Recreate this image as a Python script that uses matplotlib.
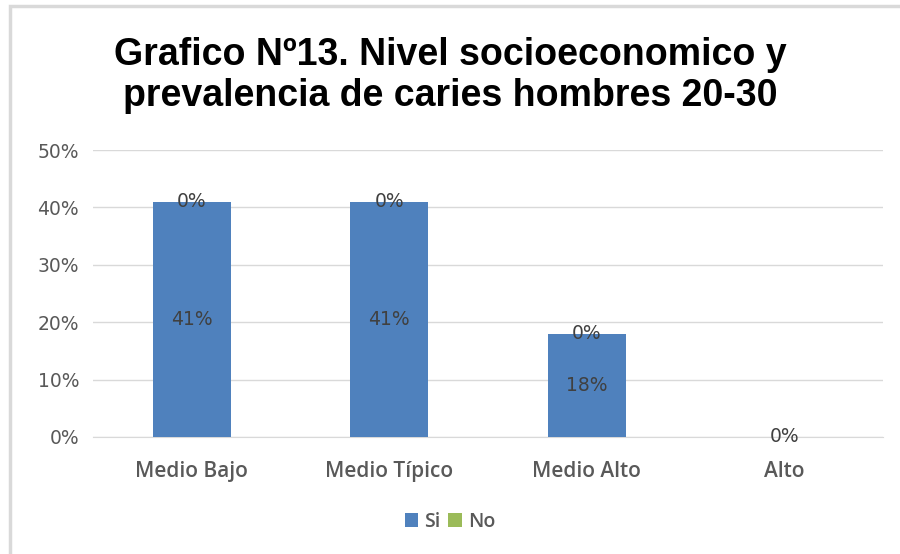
import matplotlib.pyplot as plt
from matplotlib.patches import Rectangle
import numpy as np

categories = ["Medio Bajo", "Medio Típico", "Medio Alto", "Alto"]
si_values = [41, 41, 18, 0]
no_values = [0, 0, 0, 0]

title = "Grafico Nº13. Nivel socioeconomico y\nprevalencia de caries hombres 20-30"

blue = "#4F81BD"
green = "#9BBB59"
gray_text = "#595959"
label_text = "#404040"

fig = plt.figure(figsize=(9, 5.54), dpi=100)
ax = fig.add_axes([0.1033, 0.2112, 0.8778, 0.518])

x = np.arange(len(categories))
width = 0.395

ax.bar(x, si_values, width, color=blue, label="Si", zorder=3)
ax.bar(x, no_values, width, bottom=si_values, color=green, label="No", zorder=3)

# data labels: Si in the middle of its bar, No at the top (zero height)
for xi, v in zip(x, si_values):
    if v > 0:
        ax.text(xi, v / 2, f"{v}%", ha="center", va="center", fontsize=13.5,
                color=label_text, family="DejaVu Sans", zorder=4)
for xi, s, v in zip(x, si_values, no_values):
    ax.text(xi, s + v / 2, f"{v}%", ha="center", va="center", fontsize=13.5,
            color=label_text, family="DejaVu Sans", zorder=4)

ax.set_xlim(-0.5, 3.5)
ax.set_ylim(0, 50)
ax.set_yticks(range(0, 51, 10))
ax.set_yticklabels([f"{t}%" for t in range(0, 51, 10)])
ax.set_xticks(x)
ax.set_xticklabels(categories)

ax.grid(axis="y", color="#d9d9d9", linewidth=1, zorder=0)
for side in ["top", "right", "left"]:
    ax.spines[side].set_visible(False)
ax.spines["bottom"].set_color("#d9d9d9")
ax.tick_params(axis="both", length=0, colors=gray_text)
ax.tick_params(axis="y", labelsize=13.5, pad=10)
ax.tick_params(axis="x", labelsize=15, pad=17)
for lbl in ax.get_yticklabels():
    lbl.set_family("DejaVu Sans")
for lbl in ax.get_xticklabels():
    lbl.set_family("Open Sans")
    lbl.set_fontweight("semibold")

fig.text(0.5, 0.864, title, ha="center", va="center", fontsize=27,
         fontweight="bold", family="Liberation Sans", linespacing=1.2)

leg = fig.legend(loc="center", bbox_to_anchor=(0.5, 0.058), ncol=2, frameon=False,
                 handlelength=0.7, handleheight=0.7, handletextpad=0.3, columnspacing=0.4,
                 prop={"family": "Open Sans", "weight": "semibold", "size": 14})
for t in leg.get_texts():
    t.set_color(gray_text)

# light chart border (left and top edges visible)
fig.patches.append(Rectangle((10 / 900, -0.1), 1.2, 1 - 6 / 554 + 0.1,
                             transform=fig.transFigure, fill=False,
                             edgecolor="#d9d9d9", linewidth=2.5))

fig.savefig("out.png", dpi=100)
